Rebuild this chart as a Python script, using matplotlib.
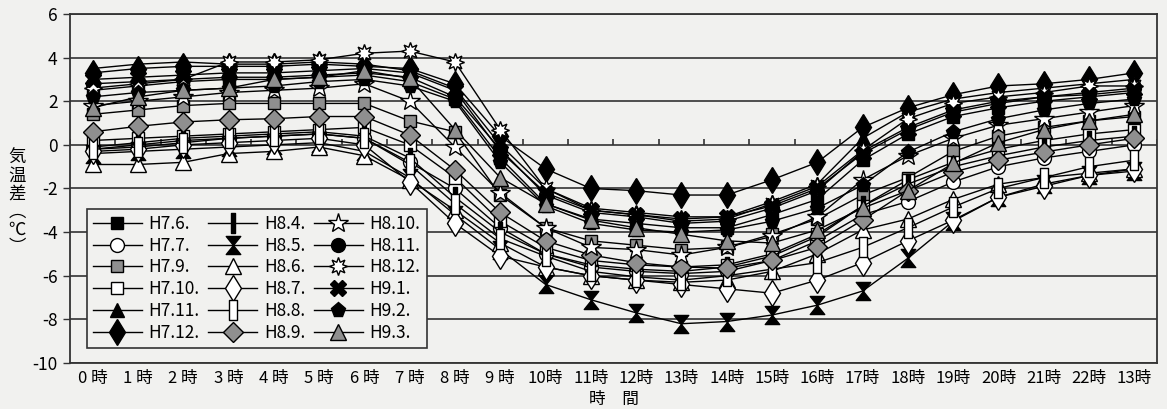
import matplotlib
matplotlib.use("Agg")
import matplotlib.pyplot as plt
from matplotlib.path import Path
import numpy as np

plt.rcParams['font.family'] = ['Noto Sans CJK JP', 'DejaVu Sans']
plt.rcParams['axes.unicode_minus'] = False

hours = ["0 時", "1 時", "2 時", "3 時", "4 時", "5 時", "6 時", "7 時", "8 時", "9 時",
         "10時", "11時", "12時", "13時", "14時", "15時", "16時", "17時", "18時", "19時",
         "20時", "21時", "22時", "13時"]

series_names = ["H7.6.", "H7.7.", "H7.9.", "H7.10.", "H7.11.", "H7.12.",
                "H8.4.", "H8.5.", "H8.6.", "H8.7.", "H8.8.", "H8.9.",
                "H8.10.", "H8.11.", "H8.12.", "H9.1.", "H9.2.", "H9.3."]

h7_6 = [2.5, 2.7, 2.9, 3.0, 3.0, 3.1, 3.2, 2.9, 2.1, -0.6, -2.7, -3.4, -3.6, -3.8, -3.8, -3.2, -2.5, -0.7, 0.5, 1.3, 1.7, 2.0, 2.2, 2.4]
h7_7 = [-0.2, 0.0, 0.2, 0.3, 0.4, 0.5, 0.3, -0.8, -2.0, -3.8, -5.0, -5.6, -5.8, -5.9, -5.8, -5.3, -4.4, -3.2, -2.6, -1.7, -1.0, -0.6, -0.3, 0.0]
h7_9 = [1.4, 1.6, 1.8, 1.9, 1.9, 1.9, 1.9, 1.1, 0.6, -2.3, -3.8, -4.4, -4.6, -4.8, -4.7, -4.1, -3.4, -2.3, -1.5, -0.3, 0.4, 0.8, 1.1, 1.3]
h7_10 = [0.2, 0.3, 0.4, 0.5, 0.6, 0.7, 0.8, 0.0, -1.5, -3.5, -4.7, -5.3, -5.5, -5.6, -5.5, -5.0, -4.1, -2.8, -1.6, -0.8, -0.2, 0.2, 0.5, 0.7]
h7_11 = [3.5, 3.7, 3.8, 3.7, 3.7, 3.8, 3.7, 3.4, 2.6, 0.0, -2.0, -2.9, -3.1, -3.3, -3.3, -2.6, -1.8, 0.3, 1.5, 2.1, 2.4, 2.6, 2.8, 3.0]
h7_12 = [3.3, 3.5, 3.6, 3.6, 3.6, 3.7, 3.6, 3.5, 2.8, 0.4, -1.1, -2.0, -2.1, -2.3, -2.3, -1.6, -0.8, 0.8, 1.7, 2.3, 2.7, 2.8, 3.0, 3.3]
h8_4 = [-0.1, 0.1, 0.3, 0.4, 0.5, 0.6, 0.4, -0.6, -2.4, -4.0, -5.0, -5.5, -5.7, -5.8, -5.6, -5.1, -4.2, -2.8, -1.8, -1.0, -0.5, -0.1, 0.2, 0.4]
h8_5 = [-0.4, -0.3, -0.2, -0.1, 0.0, 0.1, -0.3, -1.5, -3.2, -4.8, -6.4, -7.1, -7.7, -8.2, -8.1, -7.8, -7.35, -6.7, -5.2, -3.5, -2.4, -1.8, -1.4, -1.2]
h8_6 = [-0.9, -0.9, -0.8, -0.4, -0.3, -0.1, -0.5, -1.6, -3.0, -4.5, -5.6, -6.0, -6.2, -6.3, -6.2, -5.8, -5.0, -3.9, -3.4, -2.5, -1.8, -1.5, -1.3, -1.1]
h8_7 = [-0.3, -0.2, 0.0, 0.1, 0.2, 0.3, 0.0, -1.7, -3.6, -5.1, -5.6, -6.0, -6.2, -6.4, -6.6, -6.8, -6.2, -5.4, -4.4, -3.45, -2.4, -1.9, -1.4, -1.1]
h8_8 = [-0.2, -0.1, 0.1, 0.3, 0.4, 0.5, 0.3, -0.9, -2.7, -4.3, -5.1, -5.8, -6.05, -6.2, -6.0, -5.7, -5.4, -4.7, -3.8, -2.85, -2.0, -1.5, -1.0, -0.7]
h8_9 = [0.6, 0.85, 1.05, 1.15, 1.2, 1.3, 1.3, 0.45, -1.15, -3.1, -4.4, -5.05, -5.4, -5.6, -5.65, -5.3, -4.7, -3.45, -2.1, -1.25, -0.7, -0.33, 0.0, 0.3]
h8_10 = [1.8, 2.0, 2.2, 2.4, 2.5, 2.6, 2.8, 2.0, -0.1, -2.2, -3.8, -4.7, -4.8, -5.05, -4.7, -4.2, -3.3, -1.6, -0.5, 0.3, 0.9, 1.2, 1.5, 1.8]
h8_11 = [2.8, 2.9, 3.0, 3.1, 3.1, 3.2, 3.3, 3.1, 2.2, -0.2, -2.3, -3.1, -3.3, -3.6, -3.5, -2.9, -2.1, -0.3, 0.8, 1.6, 2.0, 2.2, 2.4, 2.6]
h8_12 = [2.6, 2.8, 3.0, 3.8, 3.8, 3.9, 4.2, 4.3, 3.8, 0.7, -2.0, -3.0, -3.2, -3.5, -3.4, -2.7, -1.9, -0.25, 1.2, 1.9, 2.2, 2.4, 2.7, 2.7]
h9_1 = [3.0, 3.1, 3.2, 3.3, 3.3, 3.4, 3.5, 3.3, 2.5, -0.3, -2.2, -3.0, -3.2, -3.4, -3.3, -2.8, -2.0, -0.4, 0.7, 1.5, 1.9, 2.2, 2.3, 2.5]
h9_2 = [2.2, 2.4, 2.5, 2.6, 2.7, 2.9, 3.0, 2.7, 2.0, -0.8, -2.8, -3.6, -3.9, -4.0, -3.9, -3.5, -2.9, -1.85, -0.33, 0.6, 1.2, 1.6, 1.9, 2.1]
h9_3 = [1.7, 2.2, 2.5, 2.6, 3.0, 3.1, 3.4, 3.05, 0.7, -1.5, -2.7, -3.45, -3.8, -4.1, -4.4, -4.5, -3.9, -2.9, -2.1, -0.85, 0.1, 0.7, 1.1, 1.4]

values = [h7_6, h7_7, h7_9, h7_10, h7_11, h7_12,
          h8_4, h8_5, h8_6, h8_7, h8_8, h8_9,
          h8_10, h8_11, h8_12, h9_1, h9_2, h9_3]

GRAY = "#8f8f8f"
BG = "#f1f1ef"

# custom marker shapes
bar_marker = Path([(-0.2, -1), (0.2, -1), (0.2, 1), (-0.2, 1), (-0.2, -1)],
                  [Path.MOVETO, Path.LINETO, Path.LINETO, Path.LINETO, Path.CLOSEPOLY])
rect_marker = Path([(-0.4, -1), (0.4, -1), (0.4, 1), (-0.4, 1), (-0.4, -1)],
                   [Path.MOVETO, Path.LINETO, Path.LINETO, Path.LINETO, Path.CLOSEPOLY])
hourglass_marker = Path([(-0.8, 1), (0.8, 1), (0, 0), (-0.8, 1),
                         (-0.8, -1), (0.8, -1), (0, 0), (-0.8, -1)],
                        [Path.MOVETO, Path.LINETO, Path.LINETO, Path.CLOSEPOLY,
                         Path.MOVETO, Path.LINETO, Path.LINETO, Path.CLOSEPOLY])

# (marker, face colour, size)
styles = [
    ("s", "black", 9),
    ("o", "white", 10),
    ("s", GRAY, 9),
    ("s", "white", 9),
    ("^", "black", 10),
    ("d", "black", 13),
    (bar_marker, "black", 14),
    (hourglass_marker, "black", 13),
    ("^", "white", 11),
    ("d", "white", 13),
    (rect_marker, "white", 15),
    ("D", GRAY, 10),
    ("*", "white", 15),
    ("o", "black", 10),
    ((8, 1, 0), "white", 13),
    ("X", "black", 11),
    ("p", "black", 11),
    ("^", GRAY, 11),
]

fig = plt.figure(figsize=(11.67, 4.09), dpi=100, facecolor=BG)
ax = fig.add_axes([0.060, 0.1125, 0.9314, 0.8533], facecolor=BG)

x = np.arange(len(hours))
for name, vals, (mk, fc, ms) in zip(series_names, values, styles):
    ax.plot(x, vals, color="black", linewidth=1.0, marker=mk, markersize=ms,
            markerfacecolor=fc, markeredgecolor="black", markeredgewidth=1.0,
            label=name)

ax.set_xlim(-0.5, len(hours) - 0.5)
ax.set_ylim(-10, 6)
ax.set_yticks(np.arange(-10, 7, 2))
ax.yaxis.grid(True, color="#333333", linewidth=1.2)
ax.set_axisbelow(True)
ax.tick_params(axis="y", direction="out", length=5, width=1, color="#333333",
               labelsize=12.5, pad=4)

ax.set_xticks(x)
ax.set_xticklabels(hours, fontsize=12)
ax.tick_params(axis="x", length=0, pad=5)

# category-boundary ticks on the zero line
ax.vlines(np.arange(len(hours) + 1) - 0.5, 0, 0.28, color="#333333", linewidth=1.2, zorder=1)

for side in ["left", "right", "top", "bottom"]:
    ax.spines[side].set_color("#333333")
    ax.spines[side].set_linewidth(1.3)

ax.set_xlabel("時　間", fontsize=12, labelpad=3)
fig.text(0.0146, 0.505, "気\n温\n差\n︵\n℃\n︶", fontsize=12.5, ha="center", va="center",
         linespacing=1.0)

leg = ax.legend(ncol=3, loc="lower left", bbox_to_anchor=(0.0156, 0.043),
                borderaxespad=0, frameon=True, fancybox=False, fontsize=12.5,
                handlelength=2.8, handletextpad=0.4, columnspacing=0.5,
                labelspacing=0.22, borderpad=0.35)
leg.get_frame().set_edgecolor("#333333")
leg.get_frame().set_facecolor(BG)
leg.get_frame().set_linewidth(1.2)
leg.get_frame().set_alpha(1)

fig.savefig("out.png", dpi=100, facecolor=BG)
